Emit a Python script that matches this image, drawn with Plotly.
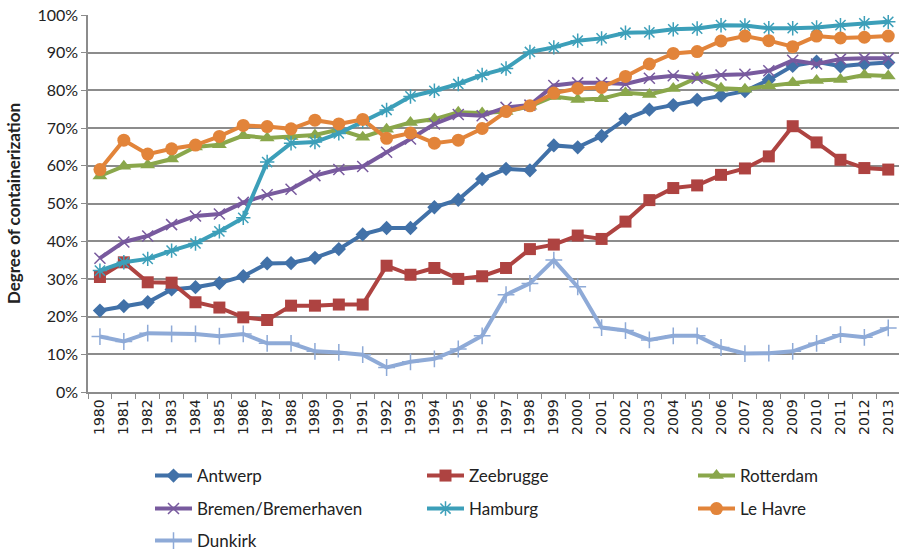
import plotly.graph_objects as go

years = list(range(1980, 2014))

antwerp = [21.6, 22.8, 23.8, 27.2, 27.8, 28.9, 30.7, 34.1, 34.2, 35.6, 37.9, 41.8, 43.5, 43.5, 49.0, 51.0,
           56.5, 59.2, 58.8, 65.4, 64.9, 67.9, 72.4, 74.9, 76.1, 77.5, 78.6, 79.8, 82.8, 86.5, 87.6, 86.4, 87.0, 87.4]
zeebrugge = [30.5, 34.4, 29.1, 29.0, 23.8, 22.4, 19.8, 19.1, 22.9, 22.9, 23.2, 23.2, 33.5, 31.1, 32.9, 30.0,
             30.7, 32.9, 37.9, 39.1, 41.5, 40.6, 45.2, 50.9, 54.1, 54.8, 57.6, 59.3, 62.5, 70.5, 66.2, 61.6, 59.4, 59.0]
rotterdam = [57.3, 59.9, 60.2, 61.8, 65.0, 65.6, 68.0, 67.4, 67.8, 68.2, 69.6, 67.6, 69.7, 71.5, 72.4, 74.2,
             74.0, 74.4, 75.8, 78.4, 77.6, 77.8, 79.4, 78.9, 80.5, 83.4, 80.6, 80.3, 81.2, 82.0, 82.6, 82.9, 84.1, 83.8]
bremen = [35.5, 39.8, 41.4, 44.4, 46.7, 47.2, 50.3, 52.3, 53.8, 57.4, 59.0, 59.8, 63.6, 67.1, 71.1, 73.6,
          73.3, 75.5, 76.1, 81.3, 82.0, 82.0, 81.7, 83.2, 83.9, 83.2, 84.1, 84.3, 85.2, 88.0, 87.0, 88.3, 88.5, 88.5]
hamburg = [32.2, 34.4, 35.3, 37.5, 39.4, 42.6, 46.2, 61.0, 66.0, 66.3, 68.6, 71.8, 74.8, 78.4, 79.9, 81.7,
           84.1, 85.8, 90.2, 91.4, 93.2, 93.8, 95.3, 95.4, 96.2, 96.4, 97.3, 97.2, 96.5, 96.5, 96.7, 97.3, 97.8, 98.2]
le_havre = [59.0, 66.8, 63.1, 64.5, 65.5, 67.8, 70.7, 70.4, 69.8, 72.1, 71.1, 72.3, 67.3, 68.7, 66.0, 66.8,
            69.9, 74.4, 75.9, 79.3, 80.5, 80.8, 83.7, 87.0, 89.8, 90.3, 93.1, 94.4, 93.2, 91.6, 94.4, 93.9, 94.1, 94.4]
dunkirk = [14.7, 13.4, 15.6, 15.4, 15.4, 14.8, 15.4, 12.9, 12.9, 10.8, 10.5, 9.9, 6.5, 8.0, 8.8, 11.4,
           14.9, 25.8, 28.8, 35.0, 27.9, 17.1, 16.3, 13.8, 14.9, 14.9, 11.8, 10.2, 10.3, 10.8, 12.9, 15.2, 14.5, 17.0]

series = [
    ("Antwerp", antwerp, "#4171A8", "diamond", 11),
    ("Zeebrugge", zeebrugge, "#AE4341", "square", 12),
    ("Rotterdam", rotterdam, "#8AA74B", "triangle-up", 13),
    ("Bremen/Bremerhaven", bremen, "#785A9E", "x-thin-open", 11),
    ("Hamburg", hamburg, "#3C9FB9", "asterisk-open", 12),
    ("Le Havre", le_havre, "#E2843A", "circle", 13),
    ("Dunkirk", dunkirk, "#8EAAD7", "cross-thin-open", 12),
]

W, H = 899, 551
# legend slot positions (pixels): left edge of each item, row centre
legend_slots = [(150, 476), (422, 476), (693, 476),
                (150, 509), (422, 509), (693, 509),
                (150, 541)]

font_main = "Lato, 'Liberation Sans', Arial, sans-serif"

fig = go.Figure()
layout_legends = {}
for i, (name, vals, color, sym, size) in enumerate(series):
    open_sym = sym.endswith("open")
    key = "legend" if i == 0 else f"legend{i + 1}"
    fig.add_trace(go.Scatter(
        x=years, y=vals, name=name, mode="lines+markers",
        line=dict(color=color, width=4),
        marker=dict(symbol=sym, size=size, color=color,
                    line=dict(color=color, width=1.5 if open_sym else 0)),
        legend=key,
    ))
    lx, ly = legend_slots[i]
    layout_legends[key] = dict(
        xref="container", yref="container",
        x=lx / W, y=1 - ly / H, xanchor="left", yanchor="middle",
        orientation="h", bgcolor="rgba(0,0,0,0)", itemwidth=37,
        font=dict(family=font_main, size=17, color="#222222"),
    )

fig.update_layout(
    width=W, height=H,
    margin=dict(l=88, r=0, t=15, b=159),
    paper_bgcolor="white", plot_bgcolor="white",
    font=dict(family=font_main, size=16, color="#222222"),
    showlegend=True,
    **layout_legends,
    xaxis=dict(
        range=[1979.5, 2013.45], tickmode="array", tickvals=years,
        ticktext=[str(y) for y in years], tickangle=-90,
        showgrid=False, showline=True, linecolor="#8C8C8C", linewidth=1.5,
        ticks="", tickfont=dict(family="'DejaVu Sans', sans-serif", size=14, color="#222222"),
        minor=dict(tick0=1979.5, dtick=1, ticks="outside", ticklen=5,
                   tickcolor="#8C8C8C", tickwidth=1, showgrid=False),
        zeroline=False, automargin=False,
    ),
    yaxis=dict(
        range=[0, 100], dtick=10, ticksuffix="%",
        showgrid=True, gridcolor="#8C8C8C", gridwidth=1.5,
        showline=True, linecolor="#8C8C8C", linewidth=1.5,
        ticks="outside", ticklen=5, tickcolor="#8C8C8C",
        tickfont=dict(size=16, color="#222222"),
        zeroline=False, automargin=False,
        title=dict(text="<b>Degree of containerization</b>", font=dict(size=17, color="#222222"),
                   standoff=12),
    ),
)

fig.write_html("out.html", post_script="document.body.style.margin='0';",
               config={"displayModeBar": False})
